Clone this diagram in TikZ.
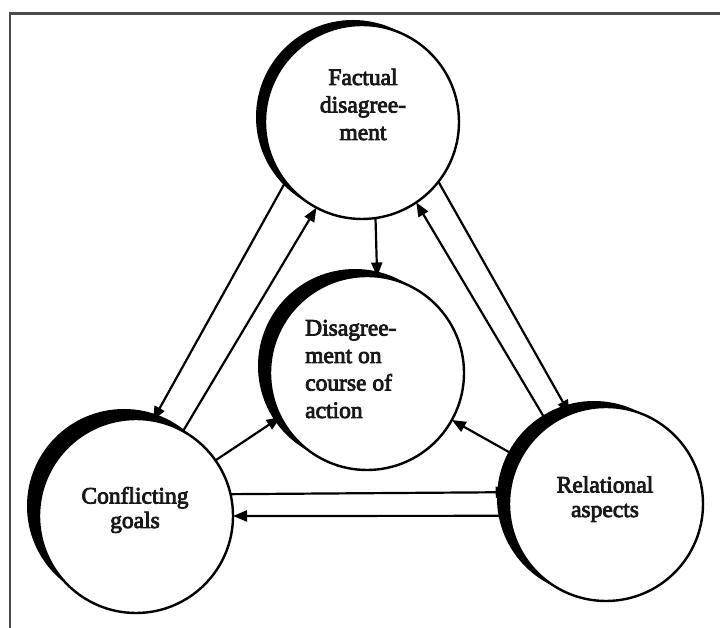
\documentclass[tikz,border=0pt]{standalone}
\usepackage{fontspec}
\setmainfont{Liberation Serif}
\newfontfamily\inkserif{Liberation Serif}[FakeBold=3.5]
\usetikzlibrary{arrows.meta}

\tikzset{
  bubble/.style={circle, draw=black, line width=2.4pt, fill=white,
                 minimum size=194pt, inner sep=0pt, outer sep=0pt},
  crescent/.style={circle, fill=black, minimum size=194pt,
                   inner sep=0pt, outer sep=0pt},
  link/.style={line width=2.2pt, draw=black,
               -{Triangle[length=14pt,width=11pt]}},
  bubbletext/.style={font=\inkserif\fontsize{23.5}{27.5}\selectfont,
                     inner sep=0pt, anchor=base, text=black!90},
  pairtext/.style={bubbletext, font=\inkserif\fontsize{23.5}{24.5}\selectfont},
  framerule/.style={draw=black!70, line width=2.2pt}
}

\begin{document}
\begin{tikzpicture}[x=1pt, y=1pt]
  \useasboundingbox[fill=white] (0,0) rectangle (720,628);

  % open frame: left and top rules only
  \coordinate (frameBL) at (10,-5);
  \coordinate (frameTL) at (10,614.5);
  \coordinate (frameTR) at (725,614.5);
  \draw[framerule] (frameBL) -- (frameTL) -- (frameTR);

  % dark crescents sit behind each bubble, offset up and to the left
  \node[crescent] (Fs) at (353,511) {};
  \node[crescent] (Ds) at (355,262) {};
  \node[crescent] (Cs) at (124,122) {};
  \node[crescent] (Rs) at (594,130) {};

  % the four bubbles
  \node[bubble] (F) at (362,506) {};
  \node[bubble] (D) at (367,255) {};
  \node[bubble] (C) at (136,112) {};
  \node[bubble] (R) at (606,124) {};

  % texts (anchored at the baseline of their last line)
  \node[bubbletext, align=center] (Ft) at (363,488) {Factual\\disagree-\\ment};
  \node[bubbletext, align=left, anchor=base west] (Dt) at (305,210)
       {Disagree-\\ment on\\course of\\action};
  \node[pairtext, align=center] (Ct) at (135,100) {Conflicting\\goals};
  \node[pairtext, align=center] (Rt) at (605,111) {Relational\\aspects};

  % connectors
  \draw[link] (F.218.7) -- (C.80.5);
  \draw[link] (C.61.3)  -- (F.242.1);
  \draw[link] (F.278.2) -- (D.84.6);
  \draw[link] (R.126.9) -- (F.304.6);
  \draw[link] (F.322)   -- (R.112.8);
  \draw[link] (C.35)    -- (D.207.6);
  \draw[link] (R.152.9) -- (D.331.9);
  \draw[link] (C.13.7)  -- (R.173.5);
  \draw[link] (R.187.1) -- (C.0);
\end{tikzpicture}
\end{document}
